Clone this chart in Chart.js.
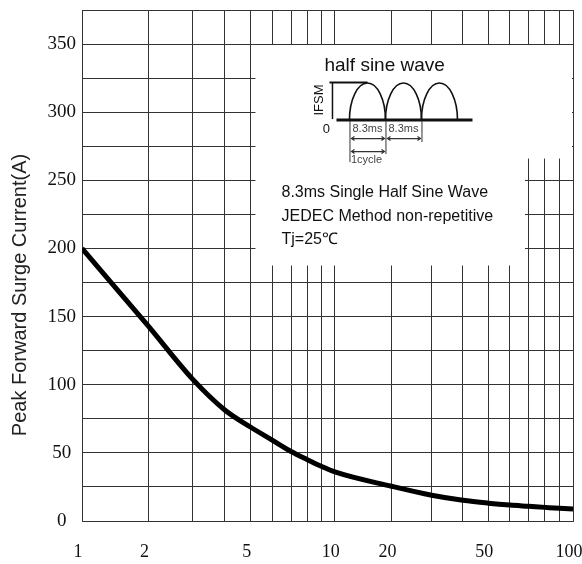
<!DOCTYPE html>
<html lang="en">
<head>
<meta charset="UTF-8">
<title>Peak Forward Surge Current</title>
<style>
  html, body { margin: 0; padding: 0; background: #fff; }
</style>
</head>
<body>
<canvas id="surgeChart" width="582" height="564"></canvas>

<script src="https://cdn.jsdelivr.net/npm/chart.js"></script>
<script>
// Number of cycles at 60Hz vs peak forward surge current (A)
const cycles = [1, 2, 3, 4, 5, 6, 7, 8, 9, 10, 20, 30, 40, 50, 60, 70, 80, 90, 100];
const surgeCurrent = [200, 143, 104.5, 81.5, 68.8, 59.2, 51, 45, 40, 36, 25.5, 18.9, 15.2, 13.1, 11.7, 10.8, 10, 9.3, 8.8];

// grid lines and labels
const xGridValues = [1, 2, 3, 4, 5, 6, 7, 8, 9, 10, 20, 30, 40, 50, 60, 70, 80, 90, 100];
const xTickLabels = [1, 2, 5, 10, 20, 50, 100];
const yTickLabels = [0, 50, 100, 150, 200, 250, 300, 350];

const gridColor = '#333';

// The printed graph paper is not a true log scale: each decade is a bit squeezed
function decadeFrac(m, a) {
    return (Math.log10(m + a) - Math.log10(1 + a)) / (Math.log10(10 + a) - Math.log10(1 + a));
}
function warp(v) {
    if (v <= 10) return 0.515 * decadeFrac(v, 0.5);
    return 0.515 + 0.485 * decadeFrac(v / 10, 1.0);
}
function unwarp(d) {
    let lo = 1, hi = 100;
    for (let i = 0; i < 40; i++) {
        const mid = (lo + hi) / 2;
        if (warp(mid) < d) lo = mid; else hi = mid;
    }
    return (lo + hi) / 2;
}

class PaperLogScale extends Chart.LogarithmicScale {
    getPixelForValue(value) {
        if (value === undefined || value === 0) value = this.min;
        if (value === null || isNaN(value)) return NaN;
        return this.getPixelForDecimal(warp(value));
    }
    getValueForPixel(pixel) {
        return unwarp(this.getDecimalForPixel(pixel));
    }
}
PaperLogScale.id = 'paperlog';
PaperLogScale.defaults = {};
Chart.register(PaperLogScale);

// white inset box with the half sine wave sketch and test conditions
const insetPlugin = {
    id: 'inset',
    beforeDatasetsDraw(chart) {
        const ctx = chart.ctx;
        const x = chart.scales.x, y = chart.scales.y;
        const L = x.getPixelForValue(5.2);
        const T = y.getPixelForValue(350) + 1;
        const R1 = chart.chartArea.right - 1;
        const B1 = y.getPixelForValue(266);
        const R2 = x.getPixelForValue(68);
        const B2 = y.getPixelForValue(187.5);

        ctx.save();
        ctx.fillStyle = '#fff';
        ctx.fillRect(L, T, R1 - L, B1 - T);
        ctx.fillRect(L, B1 - 1, R2 - L, B2 - B1 + 1);

        ctx.fillStyle = '#111';
        ctx.textBaseline = 'alphabetic';
        ctx.textAlign = 'left';
        ctx.font = '19px "Liberation Sans", Arial, sans-serif';
        ctx.fillText('half sine wave', L + 69, T + 26);

        // IFSM label
        ctx.save();
        ctx.translate(L + 64, T + 55);
        ctx.rotate(-Math.PI / 2);
        ctx.textAlign = 'center';
        ctx.textBaseline = 'middle';
        ctx.font = '13px "Liberation Sans", Arial, sans-serif';
        ctx.fillText('IFSM', 0, 0);
        ctx.restore();

        ctx.strokeStyle = '#111';
        ctx.lineWidth = 2;
        ctx.beginPath();
        ctx.moveTo(L + 74, T + 37.5); ctx.lineTo(L + 112, T + 37.5);
        ctx.stroke();
        ctx.lineWidth = 1.5;
        ctx.beginPath();
        ctx.moveTo(L + 77, T + 38); ctx.lineTo(L + 77, T + 74);
        ctx.stroke();

        // humps
        ctx.lineWidth = 1.6;
        for (let i = 0; i < 3; i++) {
            const cx = L + 94 + 18 + i * 36;
            ctx.beginPath();
            ctx.ellipse(cx, T + 75, 18, 37, 0, Math.PI, 2 * Math.PI);
            ctx.stroke();
        }
        ctx.lineWidth = 3;
        ctx.beginPath();
        ctx.moveTo(L + 81, T + 75); ctx.lineTo(L + 217, T + 75);
        ctx.stroke();

        ctx.textAlign = 'center';
        ctx.textBaseline = 'middle';
        ctx.font = '13px "Liberation Sans", Arial, sans-serif';
        ctx.fillText('0', L + 71, T + 84);

        // timing marks
        ctx.strokeStyle = '#333';
        ctx.lineWidth = 1;
        ctx.beginPath();
        ctx.moveTo(L + 94.5, T + 76); ctx.lineTo(L + 94.5, T + 117);
        ctx.moveTo(L + 130.5, T + 76); ctx.lineTo(L + 130.5, T + 109);
        ctx.moveTo(L + 166.5, T + 76); ctx.lineTo(L + 166.5, T + 97);
        ctx.stroke();

        function arrow(x1, x2, yy) {
            ctx.beginPath();
            ctx.moveTo(x1, yy); ctx.lineTo(x2, yy);
            ctx.moveTo(x1 + 3, yy - 2); ctx.lineTo(x1, yy); ctx.lineTo(x1 + 3, yy + 2);
            ctx.moveTo(x2 - 3, yy - 2); ctx.lineTo(x2, yy); ctx.lineTo(x2 - 3, yy + 2);
            ctx.stroke();
        }
        ctx.lineWidth = 1.2;
        arrow(L + 96, L + 129, T + 93.5);
        arrow(L + 132, L + 165, T + 93.5);
        arrow(L + 96, L + 129, T + 106.5);

        ctx.fillStyle = '#444';
        ctx.font = '11px "Liberation Sans Narrow", "Liberation Sans", Arial, sans-serif';
        ctx.fillText('8.3ms', L + 112, T + 84);
        ctx.fillText('8.3ms', L + 148, T + 84);
        ctx.fillText('1cycle', L + 111, T + 115);

        ctx.fillStyle = '#111';
        ctx.textAlign = 'left';
        ctx.textBaseline = 'alphabetic';
        ctx.font = '16px "Liberation Sans", Arial, sans-serif';
        ctx.fillText('8.3ms Single Half Sine Wave', L + 26, T + 152);
        ctx.fillText('JEDEC Method non-repetitive', L + 26, T + 176);
        ctx.fillText('Tj=25\u2103', L + 26, T + 199);
        ctx.restore();
    }
};

// rotated y axis title, placed like on the datasheet
const yTitlePlugin = {
    id: 'yTitle',
    afterDraw(chart) {
        const ctx = chart.ctx;
        ctx.save();
        ctx.translate(20, 295);
        ctx.rotate(-Math.PI / 2);
        ctx.textAlign = 'center';
        ctx.textBaseline = 'middle';
        ctx.fillStyle = '#222';
        ctx.font = '20px "Liberation Sans", Arial, sans-serif';
        ctx.fillText('Peak Forward Surge Current(A)', 0, 0);
        ctx.restore();
    }
};

const ctx = document.getElementById('surgeChart').getContext('2d');
const surgeChart = new Chart(ctx, {
    type: 'line',
    data: {
        datasets: [{
            label: 'IFSM',
            data: cycles.map((c, i) => ({ x: c, y: surgeCurrent[i] })),
            borderColor: '#000',
            borderWidth: 5,
            pointRadius: 0,
            cubicInterpolationMode: 'monotone',
            fill: false
        }]
    },
    options: {
        responsive: false,
        animation: false,
        layout: { padding: { left: 0, top: 10, right: 9, bottom: 0 } },
        plugins: {
            legend: { display: false },
            tooltip: { enabled: false }
        },
        scales: {
            x: {
                type: 'paperlog',
                min: 1,
                max: 100,
                afterBuildTicks: (scale) => {
                    scale.ticks = xGridValues.map(v => ({ value: v }));
                },
                afterFit: (scale) => {
                    scale.height = 43;
                    scale.paddingLeft = 0;
                    scale.paddingRight = 0;
                },
                ticks: {
                    autoSkip: false,
                    maxRotation: 0,
                    padding: 20,
                    labelOffset: -4,
                    color: '#111',
                    font: { family: '"Liberation Serif", "Times New Roman", serif', size: 18 },
                    callback: (v) => xTickLabels.includes(v) ? String(v) : ''
                },
                grid: { color: gridColor, lineWidth: 1, drawTicks: false },
                border: { color: gridColor, width: 1 }
            },
            y: {
                min: 0,
                max: 375,
                afterBuildTicks: (scale) => {
                    const t = [];
                    for (let v = 0; v <= 375; v += 25) t.push({ value: v });
                    scale.ticks = t;
                },
                afterFit: (scale) => {
                    scale.width = 82;
                    scale.paddingTop = 0;
                    scale.paddingBottom = 0;
                },
                ticks: {
                    autoSkip: false,
                    padding: 6,
                    crossAlign: 'center',
                    color: '#111',
                    font: { family: '"Liberation Serif", "Times New Roman", serif', size: 19 },
                    callback: (v) => yTickLabels.includes(v) ? String(v) : ''
                },
                grid: { color: gridColor, lineWidth: 1, drawTicks: false },
                border: { color: gridColor, width: 1 }
            }
        }
    },
    plugins: [insetPlugin, yTitlePlugin]
});
</script>
</body>
</html>
